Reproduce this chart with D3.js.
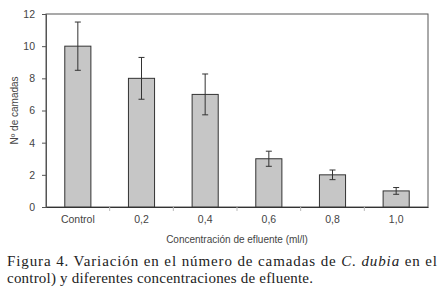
<!DOCTYPE html>
<html><head><meta charset="utf-8">
<script src="https://cdn.jsdelivr.net/npm/d3@7"></script>
<style>body{margin:0;background:#fff}
.cap{font-family:"Liberation Serif","Times New Roman",serif;}
.sans{font-family:"Liberation Sans",Arial,sans-serif;}
</style>
</head><body>
<svg id="c" width="444" height="292"></svg>
<script>
const categories = ["Control","0,2","0,4","0,6","0,8","1,0"];
const values = [10, 8, 7, 3, 2, 1];
const errors = [1.5, 1.3, 1.27, 0.47, 0.3, 0.21];
const yTicks = [0,2,4,6,8,10,12];

const svg = d3.select("#c");
const m = {l:46, r:428, t:14, b:207};
const x = d3.scaleBand().domain(categories).range([m.l, m.r]).paddingInner(0.59).paddingOuter(0.295);
const xb = d3.scaleBand().domain(categories).range([m.l, m.r]);
const y = d3.scaleLinear().domain([0,12]).range([m.b, m.t]);

// frame
svg.append("rect").attr("x",m.l).attr("y",m.t).attr("width",m.r-m.l).attr("height",m.b-m.t)
  .attr("fill","none").attr("stroke","#555").attr("stroke-width",1);

// bars
svg.selectAll("rect.bar").data(values).join("rect").attr("class","bar")
  .attr("x",(d,i)=>x(categories[i])).attr("width",x.bandwidth())
  .attr("y",d=>y(d)).attr("height",d=>y(0)-y(d))
  .attr("fill","#c6c6c6").attr("stroke","#333").attr("stroke-width",1);

// error bars
const eg = svg.append("g").attr("stroke","#333").attr("stroke-width",1);
values.forEach((v,i)=>{
  const cx = x(categories[i]) + x.bandwidth()/2;
  eg.append("line").attr("x1",cx).attr("x2",cx).attr("y1",y(v+errors[i])).attr("y2",y(v-errors[i]));
  [v+errors[i], v-errors[i]].forEach(e=>{
    eg.append("line").attr("x1",cx-3).attr("x2",cx+3).attr("y1",y(e)).attr("y2",y(e));
  });
});

// y axis
const ya = svg.append("g").attr("transform",`translate(${m.l},0)`)
  .call(d3.axisLeft(y).tickValues(yTicks).tickSize(4).tickPadding(7).tickFormat(d3.format("d")));
ya.select(".domain").attr("stroke","#555");
ya.selectAll(".tick line").attr("stroke","#555");
ya.selectAll("text").attr("class","sans").attr("font-family",null).attr("font-size",10.5).attr("fill","#444");

// x axis
const xa = svg.append("g").attr("transform",`translate(0,${m.b})`)
  .call(d3.axisBottom(x).tickSize(0).tickPadding(9));
xa.select(".domain").attr("stroke","#333");
xa.selectAll("text").attr("class","sans").attr("font-family",null).attr("font-size",10.5).attr("fill","#444");
// boundary ticks
const bounds = categories.slice(1).map(c=>xb(c));
svg.append("g").selectAll("line").data(bounds).join("line")
  .attr("x1",d=>d).attr("x2",d=>d).attr("y1",m.b).attr("y2",m.b+4).attr("stroke","#bbb");

// axis titles
svg.append("text").attr("class","sans").attr("transform",`translate(18,${(m.t+m.b)/2}) rotate(-90)`)
  .attr("text-anchor","middle").attr("font-size",10).attr("fill","#444")
  .text("Nº de camadas");
svg.append("text").attr("class","sans").attr("x",(m.l+m.r)/2).attr("y",243)
  .attr("text-anchor","middle").attr("font-size",10).attr("fill","#444")
  .text("Concentración de efluente (ml/l)");

// caption
const cap = svg.append("text").attr("class","cap").attr("x",7).attr("y",266)
  .attr("font-size",15).attr("fill","#222").attr("textLength",430).attr("lengthAdjust","spacing");
cap.append("tspan").text("Figura 4. Variación en el número de camadas de ");
cap.append("tspan").attr("font-style","italic").text("C. dubia");
cap.append("tspan").text(" en el");
svg.append("text").attr("class","cap").attr("x",7).attr("y",283)
  .attr("font-size",15).attr("fill","#222").attr("textLength",306).attr("lengthAdjust","spacing")
  .text("control) y diferentes concentraciones de efluente.");
</script>
</body></html>
